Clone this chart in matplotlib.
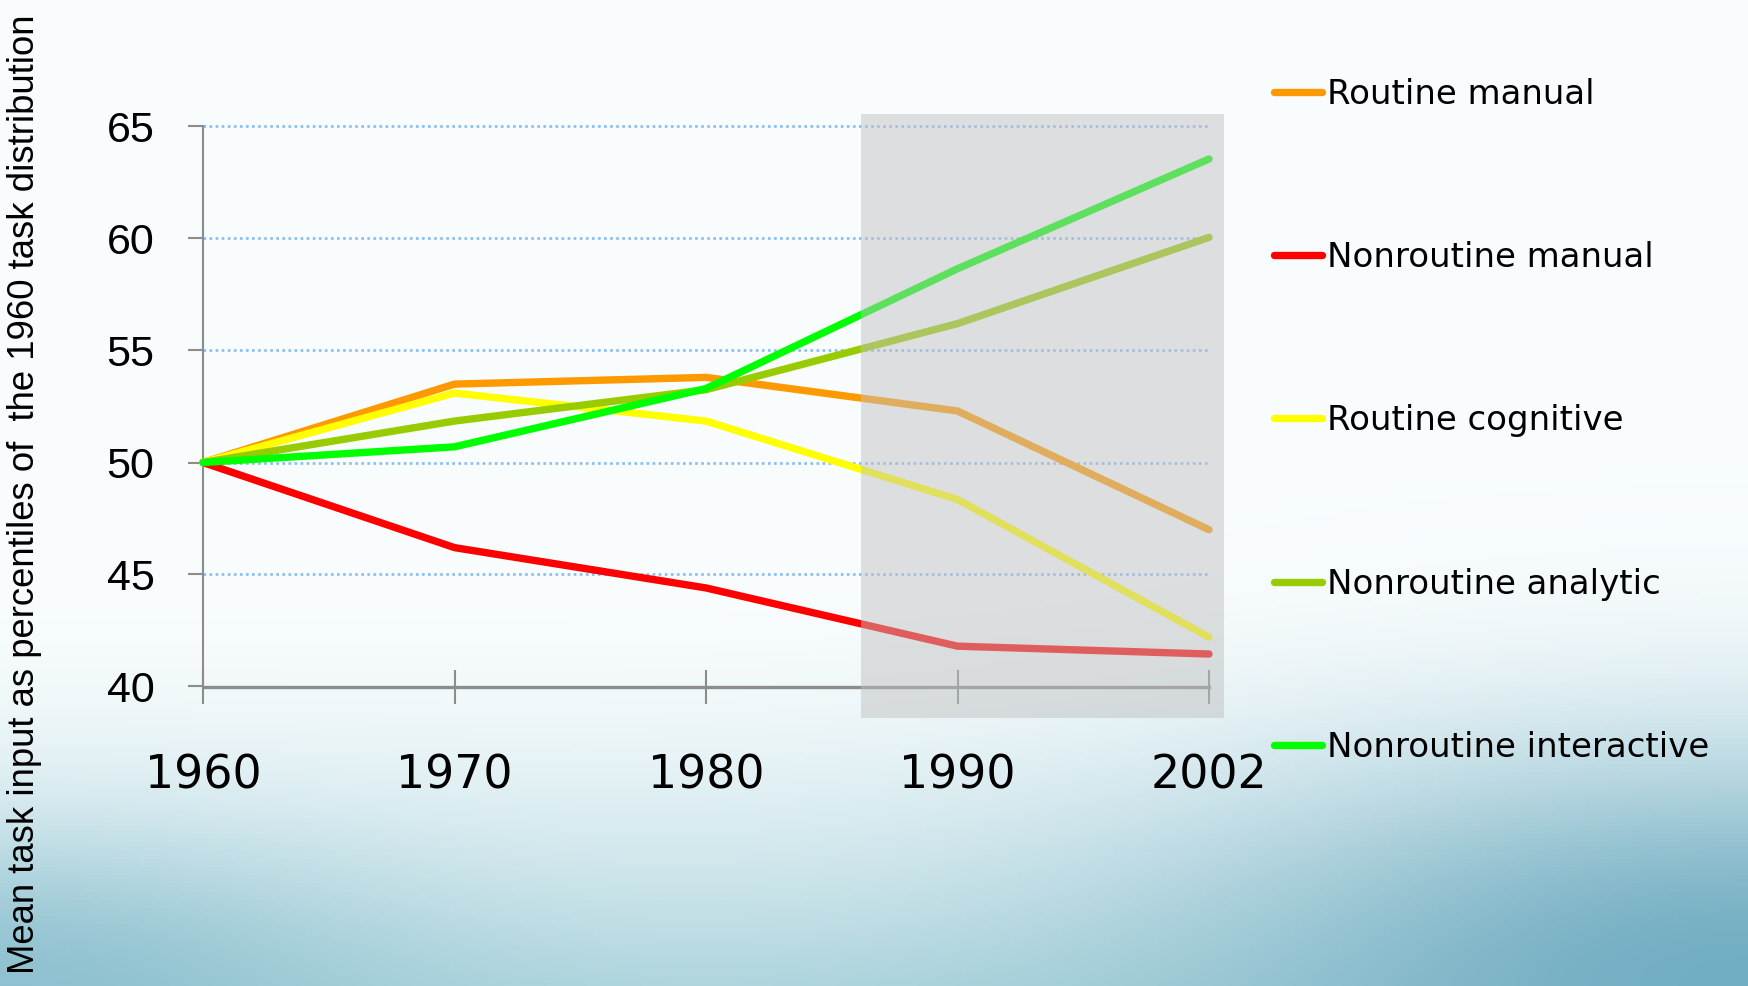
import numpy as np
import matplotlib
matplotlib.use("Agg")
import matplotlib.pyplot as plt
from matplotlib.patches import Rectangle

# data
years = ["1960", "1970", "1980", "1990", "2002"]
routine_manual = [50.0, 53.5, 53.8, 52.3, 47.0]
nonroutine_manual = [50.0, 46.2, 44.4, 41.8, 41.45]
routine_cognitive = [50.0, 53.1, 51.85, 48.35, 42.2]
nonroutine_analytic = [50.0, 51.85, 53.25, 56.2, 60.05]
nonroutine_interactive = [50.0, 50.7, 53.3, 58.65, 63.55]

series_names = ["Routine manual", "Nonroutine manual", "Routine cognitive",
                "Nonroutine analytic", "Nonroutine interactive"]
series_colors = ["#FF9900", "#FF0000", "#FFFF00", "#99CC00", "#00FF00"]
yticks = [40, 45, 50, 55, 60, 65]

W, H = 1748, 986
fig = plt.figure(figsize=(W / 100, H / 100), dpi=100)

# slide-style background gradient
bg = fig.add_axes([0, 0, 1, 1], zorder=-10)
u, v = np.meshgrid(np.linspace(0, 1, 400), np.linspace(0, 1, 240))
top = np.array([0.975, 0.99, 0.995])
bottom = np.array([0.70, 0.845, 0.875])
t = np.clip((v - 0.6) / 0.4, 0, 1) ** 1.7
img = top * (1 - t[..., None]) + bottom * t[..., None]
corner_r = np.exp(-((1 - u) ** 2 / 0.10 + (1 - v) ** 2 / 0.05))
img = img * (1 - corner_r[..., None]) + np.array([0.45, 0.68, 0.76]) * corner_r[..., None]
corner_l = np.exp(-(u ** 2 / 0.05 + (1 - v) ** 2 / 0.02)) * 0.7
img = img * (1 - corner_l[..., None]) + np.array([0.50, 0.72, 0.79]) * corner_l[..., None]
bg.imshow(img, aspect="auto", extent=[0, 1, 0, 1], origin="upper")
bg.axis("off")

ax = fig.add_axes([203 / W, 1 - 686.5 / H, (1209 - 203) / W, (686.5 - 126.5) / H])
ax.patch.set_alpha(0)

x = np.arange(len(years))

# dotted gridlines, from the axis to the last year
ax.hlines(yticks[1:], 0, len(years) - 1, color="#86BDF2", ls=(0, (1, 1.3)),
          lw=1.9, clip_on=False, zorder=1)

all_series = [routine_manual, nonroutine_manual, routine_cognitive,
              nonroutine_analytic, nonroutine_interactive]
for vals, name, col in zip(all_series, series_names, series_colors):
    ax.plot(x, vals, color=col, lw=5.3, label=name, clip_on=False,
            solid_capstyle="round", zorder=3)

ax.set_xlim(0, 4)
ax.set_ylim(40, 65)
ax.set_yticks(yticks)
ax.set_xticks(x)
ax.set_xticklabels(years)

for s in ["top", "right"]:
    ax.spines[s].set_visible(False)
ax.spines["left"].set_color("#8C8C8C")
ax.spines["left"].set_linewidth(1.5)
ax.spines["bottom"].set_color("#8C8C8C")
ax.spines["bottom"].set_linewidth(2.4)

ax.tick_params(axis="y", direction="out", length=11, width=1.5, color="#8C8C8C",
               pad=24, labelsize=31)
ax.tick_params(axis="x", direction="inout", length=25, width=1.5, color="#8C8C8C",
               pad=36, labelsize=33)
for lab in ax.get_yticklabels():
    lab.set_fontfamily("Liberation Sans")
for lab in ax.get_xticklabels():
    lab.set_fontfamily("DejaVu Sans")

# shaded recent period, semi-transparent over the lines
ax.add_patch(Rectangle((2.616, 38.59), 4.06 - 2.616, 65.56 - 38.59,
                       facecolor=(0.753, 0.753, 0.753), alpha=0.49,
                       edgecolor="none", clip_on=False, zorder=6))

fig.text(25 / W, 1 - 494 / H,
         "Mean task input as percentiles of  the 1960 task distribution",
         rotation=90, ha="center", va="center", fontsize=26.3,
         family="Liberation Sans")

fig.legend(loc="upper left", bbox_to_anchor=(1260 / W, 1 - 64 / H),
           frameon=False, fontsize=24.5, handlelength=1.42, handletextpad=0.15,
           labelspacing=3.83, borderaxespad=0)

plt.savefig("out.png", dpi=100)
